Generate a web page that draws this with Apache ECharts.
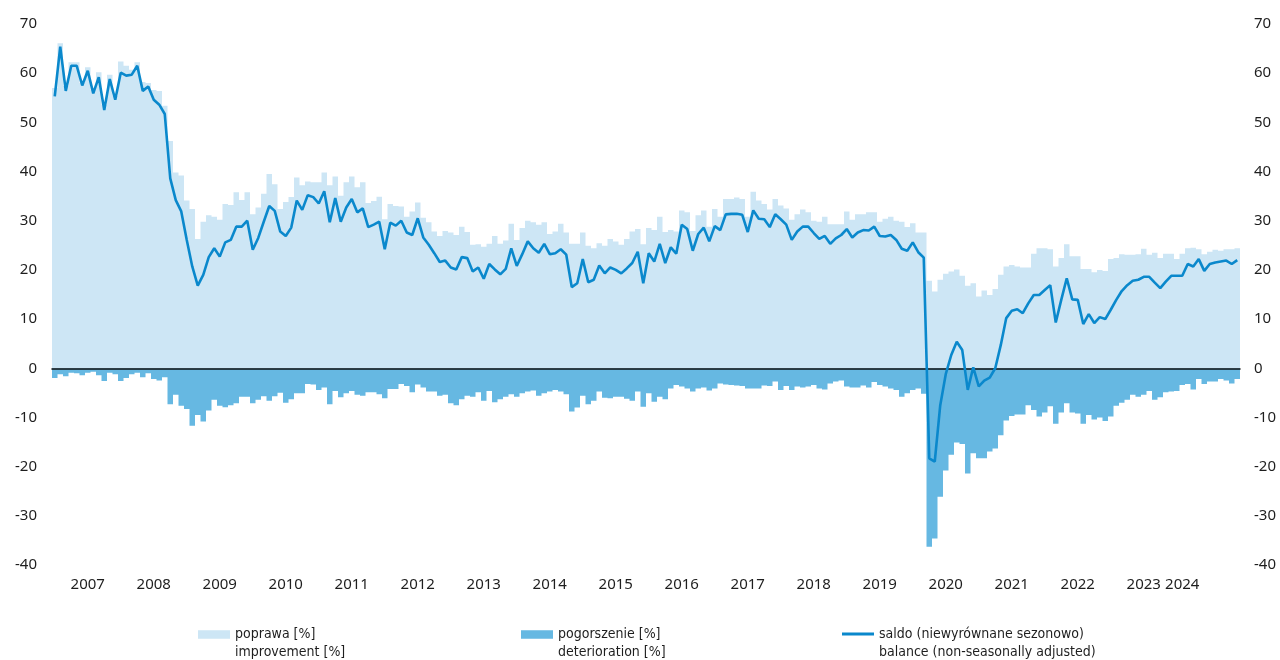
<!DOCTYPE html>
<html>
<head>
<meta charset="utf-8">
<title>Koniunktura – poprawa, pogorszenie, saldo</title>
<script src="https://cdn.jsdelivr.net/npm/echarts@6/dist/echarts.min.js"></script>
<style>
  html, body { margin: 0; padding: 0; background: #ffffff; }
  #chart { width: 1280px; height: 660px; }
</style>
</head>
<body>
<div id="chart"></div>
<script>
// Monthly survey results, January 2007 – December 2024
const startYear = 2007;

const years = ['2007', '2008', '2009', '2010', '2011', '2012', '2013', '2014', '2015',
               '2016', '2017', '2018', '2019', '2020', '2021', '2022', '2023', '2024'];

// share of answers "improvement" [%]
const poprawa = [
  57.0, 66.1, 57.4, 62.2, 62.2, 58.0, 61.2, 56.6, 60.2, 53.6, 59.7, 55.4,
  62.4, 61.5, 60.7, 62.2, 58.2, 58.0, 56.6, 56.4, 53.4, 46.2, 39.8, 39.2,
  34.1, 32.4, 26.3, 29.8, 31.1, 30.8, 30.2, 33.4, 33.2, 35.8, 34.2, 35.8,
  31.3, 32.7, 35.5, 39.5, 37.4, 32.4, 33.8, 34.8, 38.8, 37.2, 38.0, 37.8,
  37.8, 39.8, 37.2, 39.0, 35.1, 37.8, 39.0, 36.8, 37.8, 33.6, 34.0, 34.9,
  30.3, 33.4, 33.0, 32.9, 30.8, 31.9, 33.7, 30.6, 29.7, 27.8, 26.9, 27.9,
  27.6, 27.1, 28.8, 27.7, 25.1, 25.2, 24.7, 25.3, 26.9, 25.3, 26.0, 29.4,
  26.1, 28.5, 30.0, 29.7, 29.2, 29.7, 27.3, 27.8, 29.4, 27.6, 25.3, 25.3,
  27.6, 24.9, 24.4, 25.4, 24.9, 26.3, 25.8, 25.1, 26.3, 27.8, 28.3, 25.2,
  28.5, 28.1, 30.8, 27.7, 28.1, 27.8, 32.1, 31.7, 27.9, 31.1, 32.1, 28.8,
  32.4, 30.8, 34.4, 34.4, 34.7, 34.4, 30.8, 35.9, 34.1, 33.4, 32.3, 34.4,
  33.1, 32.5, 30.2, 31.3, 32.3, 31.7, 30.0, 29.8, 30.8, 29.3, 29.3, 29.3,
  31.9, 30.2, 31.3, 31.3, 31.7, 31.7, 29.8, 30.4, 30.8, 30.0, 29.8, 28.7,
  29.5, 27.6, 27.6, 17.8, 15.6, 18.0, 19.2, 19.7, 20.1, 18.8, 16.8, 17.3,
  14.6, 15.8, 14.9, 16.1, 19.0, 20.7, 21.0, 20.7, 20.5, 20.5, 23.3, 24.4,
  24.4, 24.2, 20.7, 22.4, 25.2, 22.8, 22.8, 20.2, 20.2, 19.5, 20.0, 19.8,
  22.2, 22.4, 23.2, 23.1, 23.1, 23.2, 24.3, 23.1, 23.5, 22.4, 23.3, 23.3,
  22.2, 23.3, 24.4, 24.5, 24.2, 23.2, 23.7, 24.1, 23.9, 24.2, 24.2, 24.4
];

// share of answers "deterioration" [%], drawn below zero
const pogorszenie = [
  -2.0, -1.2, -1.6, -0.9, -1.0, -1.4, -0.9, -0.7, -1.4, -2.6, -0.9, -1.2,
  -2.6, -2.0, -1.2, -0.9, -1.8, -1.0, -2.2, -2.5, -1.8, -7.3, -5.4, -7.6,
  -8.3, -11.7, -9.5, -10.8, -8.6, -6.4, -7.6, -7.9, -7.5, -7.1, -5.8, -5.8,
  -7.1, -6.4, -5.7, -6.6, -5.7, -5.0, -7.0, -6.3, -5.1, -5.1, -3.2, -3.3,
  -4.4, -3.9, -7.3, -4.6, -5.9, -5.1, -4.6, -5.4, -5.6, -4.9, -4.9, -5.3,
  -6.1, -4.2, -4.2, -3.2, -3.6, -4.9, -3.3, -3.9, -4.7, -4.7, -5.6, -5.4,
  -7.1, -7.5, -6.3, -5.6, -5.8, -4.9, -6.6, -4.6, -6.9, -6.3, -5.8, -5.3,
  -5.8, -5.1, -4.7, -4.5, -5.6, -5.1, -4.7, -4.4, -4.7, -5.3, -8.8, -8.0,
  -5.6, -7.3, -6.6, -4.7, -6.0, -6.1, -5.8, -5.8, -6.2, -6.6, -4.7, -7.8,
  -5.1, -6.8, -5.8, -6.3, -4.1, -3.4, -3.7, -4.1, -4.7, -4.1, -3.9, -4.5,
  -4.1, -3.1, -3.3, -3.4, -3.5, -3.6, -4.1, -4.1, -4.1, -3.5, -3.6, -2.7,
  -4.4, -3.6, -4.4, -3.7, -3.9, -3.7, -3.4, -4.1, -4.3, -3.1, -2.7, -2.5,
  -3.7, -3.9, -3.9, -3.5, -3.9, -2.8, -3.4, -3.7, -4.1, -4.4, -5.8, -5.1,
  -4.4, -4.1, -5.2, -36.3, -34.6, -26.1, -20.8, -17.6, -15.1, -15.4, -21.4, -17.3,
  -18.3, -18.3, -16.9, -16.3, -13.6, -10.6, -9.7, -9.4, -9.4, -7.5, -8.5, -9.8,
  -9.0, -7.7, -11.3, -9.0, -7.1, -9.0, -9.2, -11.3, -9.5, -10.4, -10.0, -10.7,
  -9.8, -7.6, -7.0, -6.4, -5.4, -5.8, -5.4, -4.6, -6.4, -5.9, -4.9, -4.7,
  -4.6, -3.4, -3.2, -4.3, -2.2, -3.2, -2.7, -2.7, -2.2, -2.5, -3.1, -2.2
];

// balance, not seasonally adjusted
const saldo = [
  55.3, 65.4, 56.4, 61.5, 61.5, 57.5, 60.5, 55.9, 59.2, 52.5, 58.8, 54.6,
  60.1, 59.5, 59.7, 61.5, 56.4, 57.3, 54.6, 53.6, 51.7, 38.6, 34.2, 31.9,
  26.1, 20.7, 16.8, 19.0, 22.6, 24.4, 22.7, 25.6, 26.1, 28.8, 28.8, 30.0,
  24.1, 26.5, 29.8, 33.0, 32.0, 27.8, 26.9, 28.6, 34.1, 32.2, 35.2, 34.8,
  33.5, 36.0, 29.7, 34.6, 29.8, 32.7, 34.4, 31.7, 32.5, 28.7, 29.2, 29.8,
  24.2, 29.6, 29.0, 30.0, 27.6, 27.1, 30.5, 26.6, 25.1, 23.4, 21.6, 21.9,
  20.5, 20.1, 22.6, 22.4, 19.7, 20.5, 18.2, 21.2, 20.1, 19.1, 20.2, 24.4,
  20.8, 23.2, 25.8, 24.4, 23.5, 25.3, 23.2, 23.4, 24.2, 23.1, 16.5, 17.3,
  22.2, 17.5, 18.0, 20.9, 19.3, 20.5, 20.0, 19.3, 20.3, 21.4, 23.7, 17.3,
  23.4, 21.7, 25.3, 21.4, 24.6, 23.3, 29.2, 28.3, 23.9, 27.3, 28.6, 25.8,
  28.9, 28.1, 31.3, 31.4, 31.4, 31.2, 27.7, 32.1, 30.4, 30.3, 28.7, 31.3,
  30.3, 29.2, 26.1, 27.8, 28.8, 28.8, 27.5, 26.3, 26.9, 25.3, 26.4, 27.1,
  28.3, 26.6, 27.6, 28.1, 28.0, 28.8, 26.9, 26.8, 27.1, 26.1, 24.3, 23.9,
  25.6, 23.6, 22.5, -18.3, -19.0, -7.5, -1.2, 2.7, 5.4, 3.7, -4.4, 0.2,
  -3.7, -2.5, -1.9, 0.0, 4.7, 10.2, 11.7, 12.0, 11.2, 13.2, 14.9, 14.9,
  15.9, 16.9, 9.3, 13.9, 18.3, 14.0, 13.9, 9.0, 11.0, 9.2, 10.4, 10.0,
  11.9, 13.9, 15.7, 16.9, 17.8, 18.0, 18.6, 18.6, 17.4, 16.3, 17.6, 18.8,
  18.8, 18.8, 21.2, 20.7, 22.2, 19.8, 21.2, 21.5, 21.7, 21.9, 21.2, 22.0
];

const legendText = {
  poprawa: 'poprawa [%]\nimprovement [%]',
  pogorszenie: 'pogorszenie [%]\ndeterioration [%]',
  saldo: 'saldo (niewyrównane sezonowo)\nbalance (non-seasonally adjusted)'
};

const colors = { up: '#cde6f5', down: '#66b8e2', line: '#0a88cc', text: '#1e1e1e' };

// category per month, e.g. "2007-01"
const months = poprawa.map((_, i) => {
  const y = startYear + Math.floor(i / 12);
  const m = (i % 12) + 1;
  return y + '-' + String(m).padStart(2, '0');
});

// one year label per calendar year; the last one sits early in its year
function isYearLabel(idx) {
  const m = idx % 12;
  const year = years[Math.floor(idx / 12)];
  if (year === years[years.length - 1]) return m === 1;
  return m === 6;
}

const tickFont = { color: colors.text, fontSize: 15, fontFamily: 'Noto Sans, sans-serif' };
const legendFont = {
  color: colors.text, fontSize: 14, lineHeight: 18,
  fontFamily: "'Liberation Sans Narrow', 'DejaVu Sans Condensed', sans-serif"
};

// legend swatches sit level with the first of the two text lines
const swatchRect = 'path://M0,0H34V9H0Z M0,27H34Z';
const swatchLine = 'path://M0,0H32V3H0Z M0,21H32Z';

function legendFor(name, left, icon, w, h) {
  return {
    data: [{ name: name, icon: icon }],
    left: left, top: 625, padding: 0,
    itemWidth: w, itemHeight: h, itemGap: 0,
    selectedMode: false,
    formatter: (n) => legendText[n],
    textStyle: legendFont
  };
}

// monthly columns are drawn as one path per series, so neighbours join without seams
const columnSeries = (name, data, color, z) => ({
  name: name, type: 'bar', data: data,
  barWidth: '100%', barGap: '-100%',
  large: true, largeThreshold: 50,
  itemStyle: { color: color },
  z: z
});

const chart = echarts.init(document.getElementById('chart'), null, { renderer: 'canvas' });

chart.setOption({
  animation: false,
  backgroundColor: '#ffffff',
  grid: { left: 52, right: 40, top: 24, bottom: 95, containLabel: false },
  legend: [
    legendFor('poprawa', 198, swatchRect, 32, 27),
    legendFor('pogorszenie', 521, swatchRect, 32, 27),
    legendFor('saldo', 842, swatchLine, 32, 21)
  ],
  xAxis: [
    {
      type: 'category', data: months, position: 'bottom',
      axisLine: { show: false, onZero: false },
      axisTick: { show: false },
      splitLine: { show: false },
      axisLabel: Object.assign({
        interval: (idx) => isYearLabel(idx),
        formatter: (v) => v.slice(0, 4),
        margin: 12
      }, tickFont)
    },
    {
      // zero line
      type: 'category', data: months, position: 'top', z: 4,
      axisLine: { show: true, onZero: true, lineStyle: { color: '#111111', width: 1.5 } },
      axisTick: { show: false },
      axisLabel: { show: false },
      splitLine: { show: false }
    }
  ],
  yAxis: [
    {
      type: 'value', min: -40, max: 70, interval: 10, position: 'left',
      axisLine: { show: false }, axisTick: { show: false }, splitLine: { show: false },
      axisLabel: Object.assign({ margin: 15 }, tickFont)
    },
    {
      type: 'value', min: -40, max: 70, interval: 10, position: 'right',
      axisLine: { show: false }, axisTick: { show: false }, splitLine: { show: false },
      axisLabel: Object.assign({ margin: 14 }, tickFont)
    }
  ],
  series: [
    columnSeries('poprawa', poprawa, colors.up, 1),
    columnSeries('pogorszenie', pogorszenie, colors.down, 2),
    {
      name: 'saldo', type: 'line', data: saldo,
      symbol: 'none', smooth: false,
      lineStyle: { color: colors.line, width: 2.6 },
      itemStyle: { color: colors.line },
      z: 5
    }
  ]
});
</script>
</body>
</html>
